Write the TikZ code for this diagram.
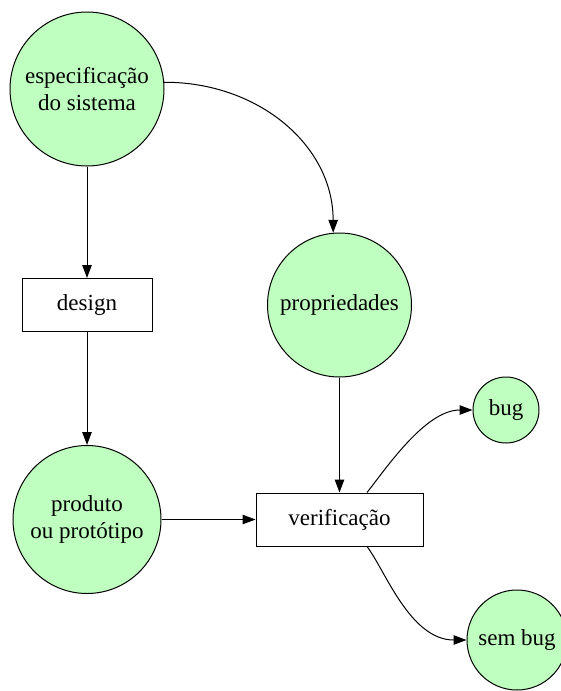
\documentclass[tikz,border=0pt]{standalone}
\usepackage{fontspec}
\setmainfont{Liberation Serif}
\usetikzlibrary{arrows.meta}
\definecolor{nodegreen}{RGB}{191,255,191}
\tikzset{
  every node/.style={font=\fontsize{23}{27}\selectfont},
  circ/.style={circle,draw=black,line width=1pt,fill=nodegreen,inner sep=0pt,align=center},
  boxnode/.style={rectangle,draw=black,line width=1pt,fill=white,inner sep=0pt,align=center},
  conn/.style={draw=black,line width=1pt,-{Triangle[length=13pt,width=9.5pt]}}
}
\begin{document}
\begin{tikzpicture}[x=1pt,y=-1pt]
\useasboundingbox (0,0) rectangle (561,691);
\node[circ,minimum size=154pt] (espec) at (87,89) {especificação\\do sistema};
\node[boxnode,minimum width=130pt,minimum height=53pt] (design) at (87,305) {design};
\node[circ,minimum size=148pt] (produto) at (87,519.5) {produto\\ou protótipo};
\node[circ,minimum size=144pt] (prop) at (339.5,305) {propriedades};
\node[boxnode,minimum width=167pt,minimum height=53pt] (verif) at (339.5,519.5) {verificação};
\node[circ,minimum size=66pt] (bug) at (506,410) {bug};
\node[circ,minimum size=100pt] (sembug) at (517,640) {sem bug};

\draw[conn] (espec.south) -- (design.north);
\draw[conn] (design.south) -- (produto.north);
\draw[conn] (espec.5) .. controls (258,82) and (333,145) .. (prop.95);
\draw[conn] (prop.south) -- (verif.north);
\draw[conn] (produto.east) -- (verif.west);
\draw[conn] ([xshift=27.5pt]verif.north) .. controls (385,470) and (425,410) .. (bug.west);
\draw[conn] ([xshift=27.5pt]verif.south) .. controls (385,570) and (410,640) .. (sembug.west);
\end{tikzpicture}
\end{document}
